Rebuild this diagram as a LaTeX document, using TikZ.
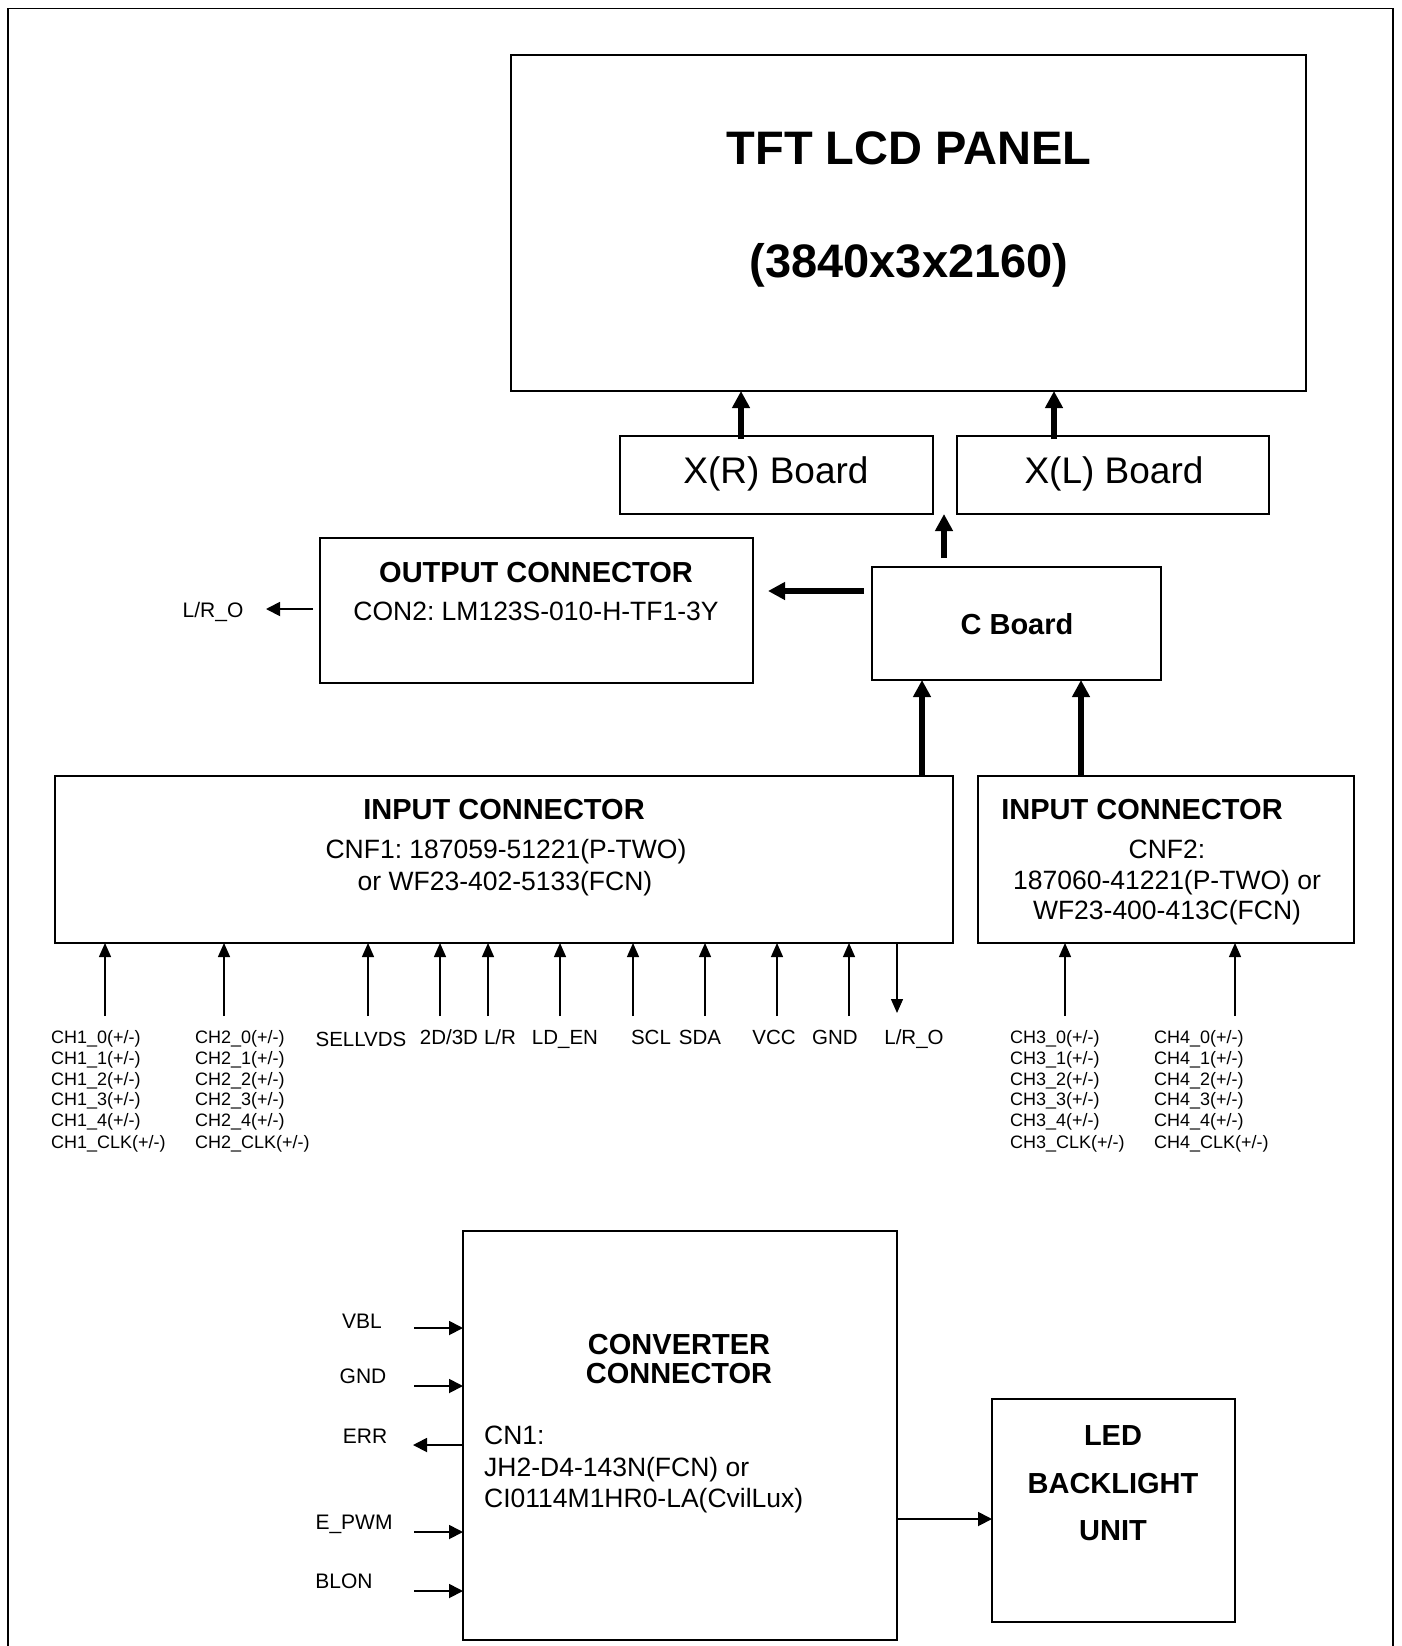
\documentclass[tikz,border=0pt]{standalone}
\usepackage{fontspec}
\setmainfont{Liberation Sans}
\usetikzlibrary{arrows.meta}
\frenchspacing
\begin{document}
\begin{tikzpicture}[x=1pt,y=-1pt,
  box/.style={draw, line width=2.2pt, inner sep=0pt, outer sep=0pt, anchor=north west},
  fA/.style={inner sep=0pt, text depth=0pt, text height=33.7pt, font=\bfseries\fontsize{47}{56}\selectfont},
  fB/.style={inner sep=0pt, text depth=0pt, text height=26.5pt, font=\fontsize{37}{44}\selectfont},
  fH/.style={inner sep=0pt, text depth=0pt, text height=20.8pt, font=\bfseries\fontsize{29}{35}\selectfont},
  fT/.style={inner sep=0pt, text depth=0pt, text height=19.0pt, font=\fontsize{26.5}{32}\selectfont},
  fL/.style={inner sep=0pt, text depth=0pt, text height=15.0pt, font=\fontsize{21}{25}\selectfont},
  fS/.style={inner sep=0pt, text depth=0pt, text height=14.7pt, font=\fontsize{20.5}{25}\selectfont},
  fC/.style={inner sep=0pt, text depth=0pt, text height=12.9pt, font=\fontsize{18}{22}\selectfont, anchor=west},
  thk/.style={line width=5.5pt, -{Triangle[length=17pt,width=17pt]}},
  med/.style={line width=1.8pt, -{Triangle[length=14pt,width=14pt]}},
  sig/.style={line width=1.3pt, -{Triangle[length=14pt,width=12pt]}}
]
\useasboundingbox (0,0) rectangle (1401,1646);
\draw[line width=1.8pt] (8,1660) -- (8,8.5) -- (1393,8.5) -- (1393,1660);

% boxes
\node[box, minimum width=795pt, minimum height=336pt] (panel) at (511,55) {};
\node[box, minimum width=313pt, minimum height=78pt] (xr) at (620,436) {};
\node[box, minimum width=312pt, minimum height=78pt] (xl) at (957,436) {};
\node[box, minimum width=289pt, minimum height=113pt] (cb) at (872,567) {};
\node[box, minimum width=433pt, minimum height=145pt] (out) at (320,538) {};
\node[box, minimum width=898pt, minimum height=167pt] (in1) at (55,776) {};
\node[box, minimum width=376pt, minimum height=167pt] (in2) at (978,776) {};
\node[box, minimum width=434pt, minimum height=409pt] (conv) at (463,1231) {};
\node[box, minimum width=243pt, minimum height=223pt] (led) at (992,1399) {};

% texts
\node[fA] (ttl1) at (909,148) {TFT LCD PANEL};
\node[fA] (ttl2) at (909,261) {(3840x3x2160)};
\node[fB] (xrt) at (776,470) {X(R) Board};
\node[fB] (xlt) at (1114,470) {X(L) Board};
\node[fH] (cbt) at (1017,624) {C Board};
\node[fH] (outt1) at (536,572) {OUTPUT CONNECTOR};
\node[fT] (outt2) at (536,611) {CON2: LM123S-010-H-TF1-3Y};
\node[fL] (lro) at (213,610) {L/R\_O};
\node[fH] (in1t1) at (504,809) {INPUT CONNECTOR};
\node[fT] (in1t2) at (506,849) {CNF1: 187059-51221(P-TWO)};
\node[fT] (in1t3) at (505,881) {or WF23-402-5133(FCN)};
\node[fH] (in2t1) at (1142,809) {INPUT CONNECTOR};
\node[fT] (in2t2) at (1167,849) {CNF2:};
\node[fT] (in2t3) at (1167,880) {187060-41221(P-TWO) or};
\node[fT] (in2t4) at (1167,910) {WF23-400-413C(FCN)};

\node[fS] (l1) at (361,1039) {SELLVDS};
\node[fS] (l2) at (449,1037) {2D/3D};
\node[fS] (l3) at (500,1037) {L/R};
\node[fS] (l4) at (565,1037) {LD\_EN};
\node[fS] (l5) at (651,1037) {SCL};
\node[fS] (l6) at (700,1037) {SDA};
\node[fS] (l7) at (774,1037) {VCC};
\node[fS] (l8) at (835,1037) {GND};
\node[fS] (l9) at (914,1037) {L/R\_O};

\foreach \ch/\xx in {1/51,2/195,3/1010,4/1154}{
  \foreach \nm/\yy [count=\k] in {0/1037,1/1058,2/1079,3/1099,4/1120,CLK/1142}{
    \node[fC] (ch\ch-\k) at (\xx,\yy) {CH\ch\_\nm(+/-)};
  }
}

\node[fL] (vblt) at (362,1321) {VBL};
\node[fL] (gndt) at (363,1376) {GND};
\node[fL] (errt) at (365,1436) {ERR};
\node[fL] (pwmt) at (354,1522) {E\_PWM};
\node[fL] (blont) at (344,1581) {BLON};

\node[fH] (cv1) at (679,1344) {CONVERTER};
\node[fH] (cv2) at (679,1373) {CONNECTOR};
\node[fT, anchor=west] (cv3) at (484,1435) {CN1:};
\node[fT, anchor=west] (cv4) at (484,1467) {JH2-D4-143N(FCN) or};
\node[fT, anchor=west] (cv5) at (484,1498) {CI0114M1HR0-LA(CvilLux)};

\node[fH] (led1) at (1113,1435) {LED};
\node[fH] (led2) at (1113,1483) {BACKLIGHT};
\node[fH] (led3) at (1113,1530) {UNIT};

% thick connectors
\coordinate (a1) at (741,0);
\coordinate (a2) at (1054,0);
\coordinate (a3) at (944,0);
\coordinate (a4) at (0,591);
\coordinate (a6) at (922,0);
\coordinate (a7) at (1081,0);
\draw[thk] ([yshift=-3pt]a1 |- xr.north) -- (a1 |- panel.south);
\draw[thk] ([yshift=-3pt]a2 |- xl.north) -- (a2 |- panel.south);
\draw[thk] ([yshift=9pt]a3 |- cb.north) -- (a3 |- xr.south);
\draw[thk] ([xshift=-8pt]a4 -| cb.west) -- ([xshift=15pt]a4 -| out.east);
\draw[thk] (a6 |- in1.north) -- (a6 |- cb.south);
\draw[thk] (a7 |- in2.north) -- (a7 |- cb.south);

% L/R_O output
\coordinate (a5) at (0,609);
\coordinate (lroT) at (266,609);
\draw[med] ([xshift=-7pt]a5 -| out.west) -- (lroT);

% signal arrows
\foreach \xx [count=\k] in {105,224,368,440,488,560,633,705,777,849}{
  \coordinate (s\k) at (\xx,1016);
  \draw[sig] (s\k) -- (s\k |- in1.south);
}
\coordinate (sd) at (897,1013);
\draw[sig] (sd |- in1.south) -- (sd);
\foreach \xx [count=\k] in {1065,1235}{
  \coordinate (t\k) at (\xx,1016);
  \draw[sig] (t\k) -- (t\k |- in2.south);
}

% converter signals
\coordinate (vbl) at (414,1328);
\coordinate (gnd) at (414,1386);
\coordinate (err) at (413,1445);
\coordinate (pwm) at (414,1532);
\coordinate (blon) at (414,1591);
\draw[med] (vbl) -- (vbl -| conv.west);
\draw[med] (gnd) -- (gnd -| conv.west);
\draw[med] (err -| conv.west) -- (err);
\draw[med] (pwm) -- (pwm -| conv.west);
\draw[med] (blon) -- (blon -| conv.west);
\coordinate (cl) at (0,1519);
\draw[med] (cl -| conv.east) -- (cl -| led.west);
\end{tikzpicture}
\end{document}
